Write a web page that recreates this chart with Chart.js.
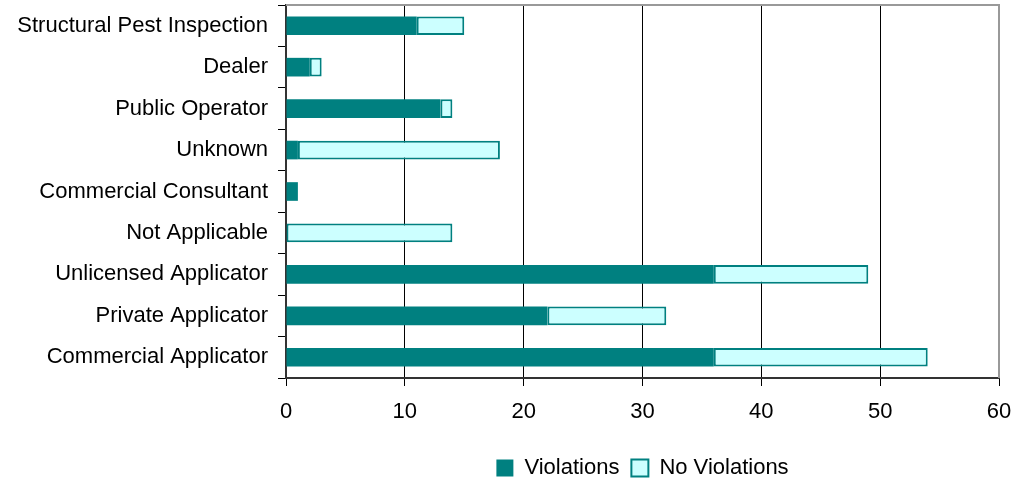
<!DOCTYPE html>
<html>
<head>
<meta charset="utf-8">
<script src="https://cdn.jsdelivr.net/npm/chart.js@4"></script>
<style>
  body { margin: 0; background: #fff; }
  #wrap { width: 1027px; height: 481px; }
</style>
</head>
<body>
<div id="wrap"><canvas id="barChart"></canvas></div>
<script>
const categories = [
    'Structural Pest Inspection',
    'Dealer',
    'Public Operator',
    'Unknown',
    'Commercial Consultant',
    'Not Applicable',
    'Unlicensed Applicator',
    'Private Applicator',
    'Commercial Applicator'
];
const violations = [11, 2, 13, 1, 1, 0, 36, 22, 36];
const noViolations = [4, 1, 1, 17, 0, 14, 13, 10, 18];
const xTicks = [0, 10, 20, 30, 40, 50, 60];

// gray frame on top and right of the plot area
const frame = {
    id: 'frame',
    afterDraw(chart) {
        const { ctx, chartArea: a } = chart;
        ctx.save();
        ctx.strokeStyle = '#999999';
        ctx.lineWidth = 2;
        ctx.beginPath();
        ctx.moveTo(a.left, a.top);
        ctx.lineTo(a.right, a.top);
        ctx.lineTo(a.right, a.bottom);
        ctx.stroke();
        ctx.restore();
    }
};

document.addEventListener("DOMContentLoaded", () => {
    const ctx = document.getElementById('barChart').getContext('2d');
    Chart.defaults.font.family = '"Liberation Sans", Arial, sans-serif';
    Chart.defaults.font.size = 22;
    Chart.defaults.color = '#000';

    new Chart(ctx, {
        type: 'bar',
        data: {
            labels: categories,
            datasets: [{
                label: 'Violations',
                data: violations,
                backgroundColor: '#008080',
                borderColor: '#008080',
                borderWidth: 0,
                barPercentage: 0.45,
                categoryPercentage: 1
            },
            {
                label: 'No Violations',
                data: noViolations,
                backgroundColor: '#CCFFFF',
                borderColor: '#008080',
                borderWidth: 2,
                borderSkipped: false,
                barPercentage: 0.45,
                categoryPercentage: 1
            }]
        },
        options: {
            indexAxis: 'y',
            responsive: true,
            maintainAspectRatio: false,
            animation: false,
            layout: { padding: { top: 5, right: 28, bottom: -8 } },
            scales: {
                x: {
                    stacked: true,
                    min: 0,
                    max: 60,
                    afterBuildTicks: (s) => { s.ticks = xTicks.map(v => ({ value: v })); },
                    afterFit: (s) => { s.height = 67; },
                    grid: { color: '#000', lineWidth: 1, tickLength: 8 },
                    border: { color: '#333', width: 2 },
                    ticks: { padding: 13 }
                },
                y: {
                    stacked: true,
                    afterFit: (s) => { s.width = 286; s.paddingTop = 0; s.paddingBottom = 0; },
                    grid: { offset: true, drawOnChartArea: false, color: '#000', tickLength: 8 },
                    border: { color: '#333', width: 2 },
                    ticks: { padding: 10 }
                }
            },
            plugins: {
                legend: {
                    position: 'bottom',
                    fullSize: false,
                    labels: {
                        boxWidth: 17,
                        boxHeight: 17,
                        padding: 12,
                        font: { size: 22 },
                        useBorderRadius: false
                    }
                },
                tooltip: { enabled: false }
            }
        },
        plugins: [frame]
    });
});
</script>
</body>
</html>
